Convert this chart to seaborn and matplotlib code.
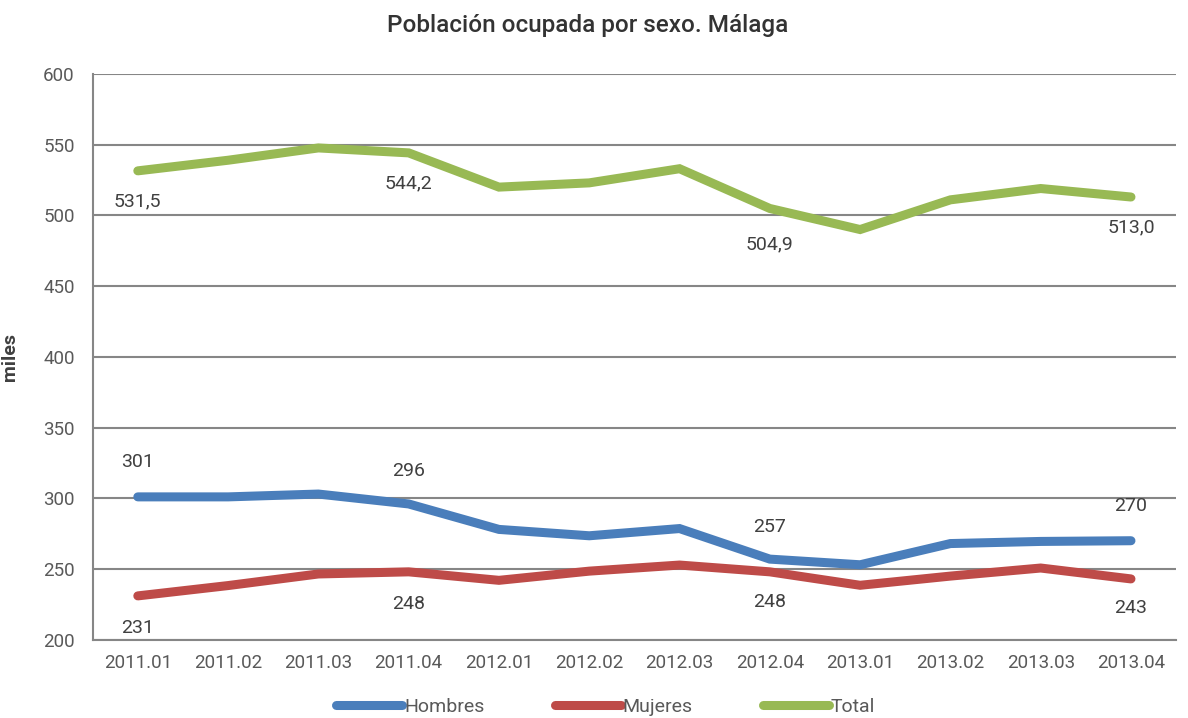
import matplotlib
matplotlib.use("Agg")
import matplotlib.pyplot as plt
import seaborn as sns
import pandas as pd

periodos = ["2011.01", "2011.02", "2011.03", "2011.04", "2012.01", "2012.02",
            "2012.03", "2012.04", "2013.01", "2013.02", "2013.03", "2013.04"]
hombres = [301, 301, 303, 296, 278, 273.5, 278.6, 257, 253, 268, 269.5, 270]
mujeres = [231, 238.3, 246.5, 248, 242, 248.5, 252.8, 248, 238.5, 245, 250.7, 243]
total = [531.5, 539, 547.7, 544.2, 520, 523, 533, 504.9, 490, 511, 519, 513.0]

series = {"Hombres": hombres, "Mujeres": mujeres, "Total": total}
colores = {"Hombres": "#4A7EBB", "Mujeres": "#BE4B48", "Total": "#98B954"}

# points that carry a value label: (serie, index, text, offset in points)
etiquetas = [
    ("Total", 0, "531,5", -22), ("Total", 3, "544,2", -22),
    ("Total", 7, "504,9", -26), ("Total", 11, "513,0", -22),
    ("Hombres", 0, "301", 25), ("Hombres", 3, "296", 24),
    ("Hombres", 7, "257", 23), ("Hombres", 11, "270", 25),
    ("Mujeres", 0, "231", -23), ("Mujeres", 3, "248", -23),
    ("Mujeres", 7, "248", -22), ("Mujeres", 11, "243", -21),
]

df = pd.DataFrame(
    [{"periodo": p, "x": i, "serie": s, "valor": v}
     for s, vals in series.items() for i, (p, v) in enumerate(zip(periodos, vals))]
)

sns.set_style("white")
plt.rcParams["font.family"] = ["Roboto", "DejaVu Sans"]

fig = plt.figure(figsize=(11.88, 7.18), dpi=100)
ax = fig.add_axes([0.078, 0.109, 0.912, 0.788])

sns.lineplot(data=df, x="x", y="valor", hue="serie", palette=colores,
             linewidth=6.5, ax=ax, solid_capstyle="round", solid_joinstyle="miter",
             legend=False)

grid_c = "#868686"
txt_c = "#404040"
ax.set_ylim(200, 600)
ax.set_yticks(range(200, 601, 50))
ax.set_xlim(-0.5, len(periodos) - 0.5)
ax.set_xticks(range(len(periodos)))
ax.set_xticklabels(periodos)
ax.yaxis.grid(True, color=grid_c, linewidth=1.5)
ax.set_axisbelow(True)
for side in ["top", "right"]:
    ax.spines[side].set_visible(False)
for side in ["left", "bottom"]:
    ax.spines[side].set_color(grid_c)
    ax.spines[side].set_linewidth(1.5)
ax.tick_params(axis="both", length=0, labelsize=13.5, labelcolor="#595959")
ax.tick_params(axis="x", pad=10)
ax.tick_params(axis="y", pad=13)
ax.set_xlabel("")
ax.set_ylabel("miles", fontsize=14, fontweight="bold", color=txt_c)
ax.yaxis.set_label_coords(-0.068, 0.5)

for serie, i, texto, dy in etiquetas:
    ax.annotate(texto, (i, series[serie][i]), xytext=(0, dy), textcoords="offset points",
                ha="center", va="center", fontsize=14, color=txt_c)

fig.suptitle("Población ocupada por sexo. Málaga", x=0.495, y=0.98,
             fontsize=17.5, color="#333333", fontweight="medium")

handles = [plt.Line2D([], [], color=colores[s], linewidth=6.5, solid_capstyle="round")
           for s in series]
fig.legend(handles, list(series), loc="lower center", bbox_to_anchor=(0.51, -0.022),
           ncol=3, frameon=False, fontsize=14, handlelength=3.4, handletextpad=0.1,
           columnspacing=3.6, labelcolor="#595959")

fig.savefig("out.png", dpi=100, facecolor="white")
